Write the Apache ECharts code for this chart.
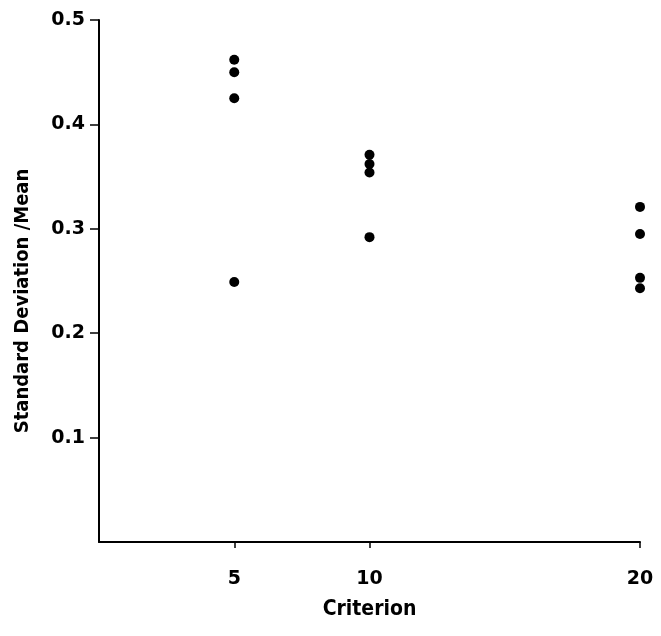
<!DOCTYPE html>
<html><head><meta charset="utf-8">
<script src="https://cdn.jsdelivr.net/npm/echarts@6/dist/echarts.min.js"></script>
<style>html,body{margin:0;padding:0;background:#fff}#c{width:661px;height:636px}</style>
</head><body><div id="c"></div>
<script>
const xTicks = [5, 10, 20];
const yTicks = [0.1, 0.2, 0.3, 0.4, 0.5];
const criterion5 = [0.462, 0.450, 0.425, 0.249];
const criterion10 = [0.371, 0.362, 0.354, 0.292];
const criterion20 = [0.321, 0.295, 0.253, 0.243];
const xName = 'Criterion';
const yName = 'Standard Deviation /Mean';

const points = [];
criterion5.forEach(v => points.push([5, v]));
criterion10.forEach(v => points.push([10, v]));
criterion20.forEach(v => points.push([20, v]));

const chart = echarts.init(document.getElementById('c'));
chart.setOption({
  animation: false,
  backgroundColor: '#fff',
  grid: { left: 99, right: 21, top: 20, bottom: 94 },
  xAxis: {
    type: 'value', min: 0, max: 20,
    name: xName, nameLocation: 'middle', nameGap: 57,
    nameTextStyle: { fontFamily: 'DejaVu Sans Condensed', fontWeight: 'bold', fontSize: 21, color: '#000' },
    splitLine: { show: false },
    axisLine: { show: true, lineStyle: { color: '#000', width: 2 } },
    axisTick: { show: true, length: 6, customValues: xTicks, lineStyle: { color: '#000', width: 1.5 } },
    axisLabel: { customValues: xTicks, margin: 28, fontFamily: 'DejaVu Sans', fontWeight: 'bold', fontSize: 19, color: '#000' }
  },
  yAxis: {
    type: 'value', min: 0, max: 0.5, interval: 0.1,
    name: yName, nameLocation: 'middle', nameGap: 66,
    nameTextStyle: { fontFamily: 'DejaVu Sans Condensed', fontWeight: 'bold', fontSize: 20, color: '#000', padding: [0, 0, 0, -40] },
    splitLine: { show: false },
    axisLine: { show: true, lineStyle: { color: '#000', width: 2 } },
    axisTick: { show: true, length: 9, customValues: yTicks, lineStyle: { color: '#000', width: 1.5 } },
    axisLabel: { customValues: yTicks, margin: 14, fontFamily: 'DejaVu Sans', fontWeight: 'bold', fontSize: 19, color: '#000',
      formatter: v => v.toFixed(1) }
  },
  series: [{
    type: 'scatter', data: points, symbol: 'circle', symbolSize: 10,
    itemStyle: { color: '#000', opacity: 1 }
  }]
});
</script></body></html>
